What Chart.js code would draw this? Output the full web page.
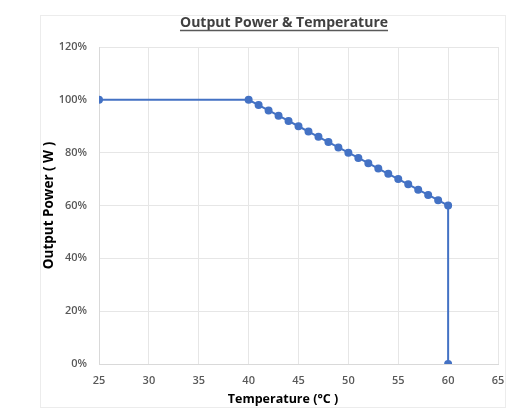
<!DOCTYPE html>
<html>
<head>
<meta charset="utf-8">
<script src="https://cdn.jsdelivr.net/npm/chart.js@4"></script>
<style>
  html, body { margin: 0; padding: 0; background: #fff; }
  #frame { position: absolute; left: 40px; top: 15px; width: 464px; height: 391px; border: 1px solid #ececec; box-sizing: content-box; }
  #wrap { position: absolute; left: 0; top: 0; width: 464px; height: 391px; }
</style>
</head>
<body>
<div id="frame"><div id="wrap"><canvas id="c"></canvas></div></div>
<script>
const temperatures = [25, 40, 41, 42, 43, 44, 45, 46, 47, 48, 49, 50, 51, 52, 53, 54, 55, 56, 57, 58, 59, 60, 60];
const outputPower = [1.00, 1.00, 0.98, 0.96, 0.94, 0.92, 0.90, 0.88, 0.86, 0.84, 0.82, 0.80, 0.78, 0.76, 0.74, 0.72, 0.70, 0.68, 0.66, 0.64, 0.62, 0.60, 0.00];
const xTicks = [25, 30, 35, 40, 45, 50, 55, 60, 65];
const yTicks = [0, 0.2, 0.4, 0.6, 0.8, 1.0, 1.2];
const chartTitle = 'Output Power & Temperature';
const xTitle = 'Temperature (°C )';
const yTitle = 'Output Power ( W )';

const points = temperatures.map((t, i) => ({ x: t, y: outputPower[i] }));

const titles = {
  id: 'titles',
  afterDraw(chart) {
    const ctx = chart.ctx;
    const cx = chart.width / 2 + 11;
    ctx.save();
    ctx.textAlign = 'center';
    ctx.textBaseline = 'middle';
    ctx.font = 'bold 14px "Open Sans"';
    ctx.fillStyle = '#404040';
    ctx.fillText(chartTitle, cx, 7);
    const w = ctx.measureText(chartTitle).width;
    ctx.strokeStyle = '#595959';
    ctx.lineWidth = 1.3;
    ctx.beginPath();
    ctx.moveTo(cx - w / 2, 14.5);
    ctx.lineTo(cx + w / 2, 14.5);
    ctx.stroke();
    ctx.font = 'bold 12.5px "Open Sans"';
    ctx.fillStyle = '#000';
    ctx.fillText(xTitle, cx - 1, 383);
    ctx.restore();
  }
};

new Chart(document.getElementById('c'), {
  type: 'scatter',
  data: {
    datasets: [{
      data: points,
      showLine: true,
      borderColor: '#4472C4',
      backgroundColor: '#4472C4',
      borderWidth: 2,
      pointRadius: 3,
      pointHoverRadius: 3
    }]
  },
  options: {
    responsive: true,
    maintainAspectRatio: false,
    animation: false,
    layout: { padding: { left: 0, right: 0, top: 31, bottom: 0 } },
    plugins: {
      legend: { display: false },
      tooltip: { enabled: false },
      title: { display: false }
    },
    scales: {
      x: {
        type: 'linear',
        min: 25, max: 65,
        afterBuildTicks: s => { s.ticks = xTicks.map(v => ({ value: v })); },
        afterFit: s => { s.height = 43; s.paddingRight = 7; },
        ticks: { color: '#595959', font: { family: 'Open Sans', size: 11, weight: '600' }, padding: 10, maxRotation: 0 },
        grid: { color: '#e6e6e6', drawTicks: false },
        border: { color: '#d9d9d9' }
      },
      y: {
        min: 0, max: 1.2,
        afterBuildTicks: s => { s.ticks = yTicks.map(v => ({ value: v })); },
        afterFit: s => { s.width = 58; },
        ticks: { color: '#595959', font: { family: 'Open Sans', size: 11, weight: '600' }, padding: 12,
          callback: v => Math.round(v * 100) + '%' },
        grid: { color: '#e6e6e6', drawTicks: false },
        border: { color: '#d9d9d9' },
        title: { display: true, text: yTitle, color: '#000', font: { family: 'Open Sans', size: 13.5, weight: 'bold' }, padding: { top: 0, bottom: 3 } }
      }
    }
  },
  plugins: [titles]
});
</script>
</body>
</html>
